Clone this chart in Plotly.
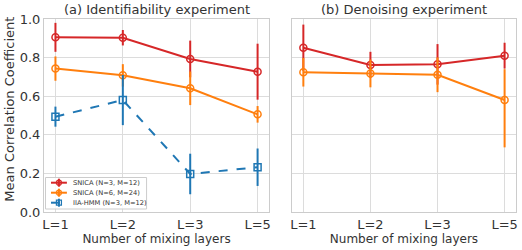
import plotly.graph_objects as go

layers = ["L=1", "L=2", "L=3", "L=5"]

# (a) Identifiability experiment
a_snica3 = [0.905, 0.903, 0.793, 0.727]
a_snica3_err = [0.075, 0.040, 0.095, 0.145]
a_snica6 = [0.743, 0.708, 0.641, 0.506]
a_snica6_err = [0.063, 0.058, 0.087, 0.043]
a_iia = [0.494, 0.580, 0.197, 0.232]
a_iia_err = [0.052, 0.130, 0.105, 0.097]

# (b) Denoising experiment
b_snica3 = [0.851, 0.762, 0.765, 0.810]
b_snica3_err = [0.120, 0.068, 0.105, 0.067]
b_snica6 = [0.724, 0.718, 0.711, 0.580]
b_snica6_err_plus = [0.074, 0.072, 0.090, 0.160]
b_snica6_err_minus = [0.074, 0.072, 0.090, 0.245]

names = ["SNICA (N=3, M=12)", "SNICA (N=6, M=24)", "IIA-HMM (N=3, M=12)"]
colors = ["#d62728", "#ff7f0e", "#1f77b4"]
symbols = ["circle-open", "circle-open", "square-open"]
dashes = ["solid", "solid", "dash"]

FONT = "DejaVu Sans"
TXT = "#333333"

W, H = 522, 250
ML, MR, MT, MB = 44, 4, 19, 38
PW = W - ML - MR
PH = H - MT - MB

def px(xw):  # window x pixel -> paper
    return (xw - ML) / PW

def py(yw):  # window y pixel -> paper
    return (H - MB - yw) / PH

fig = go.Figure()

def add(x, y, ep, em, name, color, symbol, dash, xa, ya):
    fig.add_trace(go.Scatter(
        x=x, y=y, name=name, mode="lines+markers",
        line=dict(color=color, width=2, dash=dash),
        marker=dict(symbol=symbol, size=7, color=color, line=dict(color=color, width=1.5)),
        error_y=dict(type="data", array=ep, arrayminus=em, symmetric=False,
                     color=color, thickness=2, width=0),
        xaxis=xa, yaxis=ya, showlegend=False))

add(layers, a_snica3, a_snica3_err, a_snica3_err, names[0], colors[0], symbols[0], dashes[0], "x", "y")
add(layers, a_snica6, a_snica6_err, a_snica6_err, names[1], colors[1], symbols[1], dashes[1], "x", "y")
add(layers, a_iia, a_iia_err, a_iia_err, names[2], colors[2], symbols[2], dashes[2], "x", "y")
add(layers, b_snica3, b_snica3_err, b_snica3_err, names[0], colors[0], symbols[0], dashes[0], "x2", "y2")
add(layers, b_snica6, b_snica6_err_plus, b_snica6_err_minus, names[1], colors[1], symbols[1], dashes[1], "x2", "y2")

grid = "#dcdcdc"
spine = "#cccccc"
xcommon = dict(type="category", range=[-0.17, 3.17], showgrid=True, gridcolor=grid, gridwidth=1,
               showline=True, linecolor=spine, linewidth=1, mirror=True, ticks="",
               tickfont=dict(size=13, color=TXT, family=FONT),
               title=dict(text="Number of mixing layers", font=dict(size=12, color=TXT, family=FONT), standoff=2),
               zeroline=False)
ycommon = dict(range=[0, 1.0], tickvals=[0, 0.2, 0.4, 0.6, 0.8, 1.0], showgrid=True, gridcolor=grid, gridwidth=1,
               showline=True, linecolor=spine, linewidth=1, mirror=True, ticks="", zeroline=False)

# manual compact legend (matplotlib style)
shapes = [dict(type="rect", xref="paper", yref="paper",
               x0=px(45.5), x1=px(147), y0=py(209), y1=py(177.5),
               line=dict(color="#cccccc", width=1), fillcolor="rgba(255,255,255,0.85)", layer="above")]
annotations = []
row_y = [182.7, 192.7, 202.7]
for i in range(3):
    yy = py(row_y[i])
    c = colors[i]
    shapes.append(dict(type="line", xref="paper", yref="paper", x0=px(51), x1=px(67), y0=yy, y1=yy,
                       line=dict(color=c, width=2, dash="dash" if dashes[i] == "dash" else "solid"), layer="above"))
    shapes.append(dict(type="line", xref="paper", yref="paper", x0=px(59), x1=px(59),
                       y0=py(row_y[i] - 4), y1=py(row_y[i] + 4), line=dict(color=c, width=2), layer="above"))
    shapes.append(dict(type="circle" if i < 2 else "rect", xref="paper", yref="paper",
                       xsizemode="pixel", ysizemode="pixel", xanchor=px(59), yanchor=yy,
                       x0=-2.5, x1=2.5, y0=-2.5, y1=2.5, line=dict(color=c, width=1.2), layer="above"))
    annotations.append(dict(text=names[i], x=px(71), y=yy, xref="paper", yref="paper",
                            xanchor="left", yanchor="middle", showarrow=False,
                            font=dict(size=6.7, family=FONT, color=TXT)))

annotations += [
    dict(text="(a) Identifiability experiment", x=(px(44) + px(270)) / 2, y=1.0, xref="paper", yref="paper",
         xanchor="center", yanchor="bottom", yshift=0, showarrow=False,
         font=dict(size=13, family=FONT, color=TXT)),
    dict(text="(b) Denoising experiment", x=(px(293) + px(518)) / 2, y=1.0, xref="paper", yref="paper",
         xanchor="center", yanchor="bottom", yshift=0, showarrow=False,
         font=dict(size=13, family=FONT, color=TXT)),
    dict(text="Mean Correlation Coefficient", x=px(8.5), y=py(109), xref="paper", yref="paper",
         xanchor="center", yanchor="middle", textangle=-90, showarrow=False,
         font=dict(size=13, family=FONT, color=TXT)),
]

fig.update_layout(
    width=W, height=H,
    margin=dict(l=ML, r=MR, t=MT, b=MB),
    paper_bgcolor="white", plot_bgcolor="white",
    font=dict(family=FONT, color=TXT),
    showlegend=False,
    xaxis=dict(domain=[px(44), px(270)], anchor="y", **xcommon),
    xaxis2=dict(domain=[px(293), px(518)], anchor="y2", **xcommon),
    yaxis=dict(domain=[0, 1], anchor="x", tickformat=".1f",
               tickfont=dict(size=13, color=TXT, family=FONT), **ycommon),
    yaxis2=dict(domain=[0, 1], anchor="x2", showticklabels=False, **ycommon),
    shapes=shapes,
    annotations=annotations,
)

fig.write_html("out.html",
               config={"displayModeBar": False},
               post_script="document.body.style.margin='0';document.body.style.padding='0';document.body.style.overflow='hidden';")
